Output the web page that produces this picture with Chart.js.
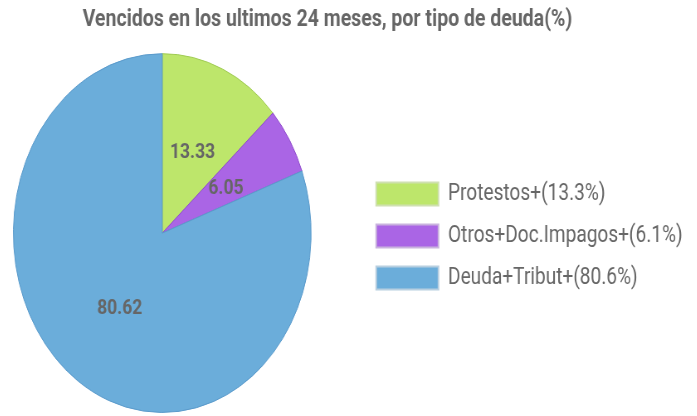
<!DOCTYPE html>
<html>
<head>
<meta charset="utf-8">
<script src="https://cdn.jsdelivr.net/npm/chart.js@4/dist/chart.umd.min.js"></script>
<style>
  html, body { margin: 0; padding: 0; background: #fff; overflow: hidden; width: 697px; height: 416px; }
  #wrap { position: absolute; left: -36.5px; top: 0; width: 880px; height: 416px;
          transform: scaleX(0.8298); transform-origin: 0 0; }
</style>
</head>
<body>
<div id="wrap"><canvas id="c" width="880" height="416"></canvas></div>
<script>
const titleText = 'Vencidos en los ultimos 24 meses, por tipo de deuda(%)';
const categories = ['Protestos+(13.3%)', 'Otros+Doc.Impagos+(6.1%)', 'Deuda+Tribut+(80.6%)'];
const values = [13.33, 6.05, 80.62];
const fillColors = ['#bde66b', '#aa65e5', '#6badda'];
const borderColors = ['#9fcb52', '#8f4ccb', '#5a9acb'];
const legendBorders = ['#cfe0b0', '#c9b3de', '#b8cfe0'];

const valueLabels = {
  id: 'valueLabels',
  afterDatasetsDraw(chart) {
    const ctx = chart.ctx;
    const meta = chart.getDatasetMeta(0);
    ctx.save();
    ctx.font = 'bold 21px Roboto';
    ctx.fillStyle = '#666666';
    ctx.textAlign = 'center';
    ctx.textBaseline = 'middle';
    meta.data.forEach((arc, i) => {
      const p = arc.tooltipPosition();
      ctx.fillText(values[i].toFixed(2), p.x, p.y + 2);
    });
    ctx.restore();
  }
};

new Chart(document.getElementById('c'), {
  type: 'pie',
  data: {
    labels: categories,
    datasets: [{
      data: values,
      backgroundColor: fillColors,
      borderColor: borderColors,
      borderWidth: 1
    }]
  },
  options: {
    responsive: false,
    animation: false,
    devicePixelRatio: 1,
    layout: { padding: { left: 0, right: 4, top: 0, bottom: 3 } },
    plugins: {
      tooltip: { enabled: false },
      title: {
        display: true,
        text: titleText,
        color: '#666666',
        font: { family: 'Roboto', size: 23.5, weight: 'bold', lineHeight: 1.2 },
        padding: { top: 6, bottom: 19 }
      },
      legend: {
        position: 'right',
        align: 'center',
        fullSize: false,
        title: { display: true, text: ' ', font: { size: 5 }, padding: 0 },
        labels: {
          boxWidth: 75,
          boxHeight: 23,
          padding: 19,
          color: '#666666',
          font: { family: 'Roboto', size: 23 },
          generateLabels(chart) {
            return categories.map((t, i) => ({
              text: t,
              fillStyle: fillColors[i],
              strokeStyle: legendBorders[i],
              lineWidth: 2,
              hidden: false,
              index: i
            }));
          }
        }
      }
    }
  },
  plugins: [valueLabels]
});
</script>
</body>
</html>
